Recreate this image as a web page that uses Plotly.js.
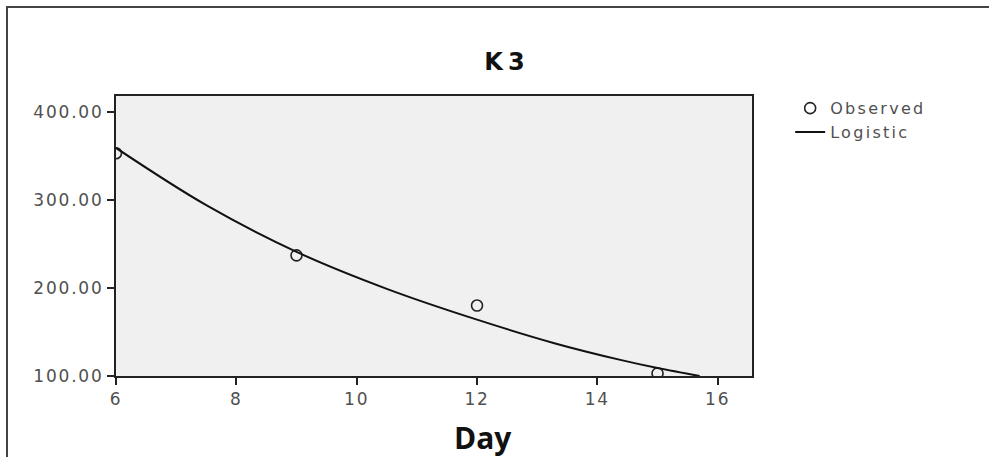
<!DOCTYPE html>
<html>
<head>
<meta charset="utf-8">
<script src="https://cdn.plot.ly/plotly-3.0.1.min.js"></script>
<style>
  html, body { margin: 0; padding: 0; background: #fff; }
  #wrap { position: relative; width: 989px; height: 457px; overflow: hidden; }
  #frame { position: absolute; left: 6px; top: 6px; width: 2000px; height: 1000px;
           border-left: 2px solid #444; border-top: 2px solid #444; pointer-events: none; z-index: 5; }
  #chart { position: absolute; left: 0; top: 0; width: 989px; height: 457px; }
  .xtick text, .ytick text { letter-spacing: 1.8px; }
  .legendtext { letter-spacing: 2.3px; }
  .gtitle { letter-spacing: 5px; }
</style>
</head>
<body>
<div id="wrap">
  <div id="chart"></div>
  <div id="frame"></div>
</div>
<script>
// Observed data
const observedDay = [6, 9, 12, 15];
const observedValue = [353, 237, 180, 103];

// Logistic fitted curve
const logisticDay = [6, 7.5, 9, 10.5, 12, 13.3, 14.4, 15, 15.7];
const logisticValue = [359, 294, 241, 199, 164, 137, 118, 109, 100];

const xTicks = [6, 8, 10, 12, 14, 16];
const yTicks = [100, 200, 300, 400];

const chartTitle = 'K3';
const xTitle = 'Day';

const tickFont = { family: 'DejaVu Sans, sans-serif', size: 17, color: '#505050' };

const traces = [
  {
    x: observedDay, y: observedValue,
    type: 'scatter', mode: 'markers', name: 'Observed',
    marker: { symbol: 'circle-open', size: 11, color: '#222', line: { width: 1.6, color: '#222' } }
  },
  {
    x: logisticDay, y: logisticValue,
    type: 'scatter', mode: 'lines', name: 'Logistic',
    line: { color: '#111', width: 2, shape: 'spline', smoothing: 1 }
  }
];

const layout = {
  width: 989, height: 457,
  margin: { l: 116, r: 237, t: 96, b: 81 },
  paper_bgcolor: '#ffffff',
  plot_bgcolor: '#f0f0f0',
  font: tickFont,
  title: {
    text: '<b>' + chartTitle + '</b>',
    font: { family: 'DejaVu Sans, sans-serif', size: 24, color: '#111' },
    x: 507 / 989, xref: 'container', xanchor: 'center',
    y: 1 - 62 / 457, yref: 'container', yanchor: 'middle'
  },
  xaxis: {
    range: [6, 16.57],
    tickvals: xTicks, ticktext: xTicks.map(String),
    ticks: 'outside', ticklen: 7, tickwidth: 2, tickcolor: '#222',
    showline: true, linecolor: '#222', linewidth: 2, mirror: true,
    showgrid: false, zeroline: false,
    tickfont: tickFont
  },
  yaxis: {
    range: [100, 418],
    tickvals: yTicks, tickformat: '.2f',
    ticks: 'outside', ticklen: 7, tickwidth: 2, tickcolor: '#222',
    showline: true, linecolor: '#222', linewidth: 2, mirror: true,
    showgrid: false, zeroline: false,
    tickfont: tickFont
  },
  showlegend: true,
  legend: {
    x: 1.06, xanchor: 'left', y: 1.017, yanchor: 'top',
    bgcolor: 'rgba(0,0,0,0)',
    font: { family: 'DejaVu Sans, sans-serif', size: 16, color: '#505050' },
    tracegroupgap: 0
  },
  annotations: [
    {
      text: '<b>' + xTitle + '</b>',
      xref: 'paper', yref: 'paper',
      x: (483 - 116) / 636, y: -(437 - 376) / 280,
      xanchor: 'center', yanchor: 'middle',
      showarrow: false,
      font: { family: 'Open Sans, DejaVu Sans Condensed, sans-serif', size: 30, color: '#111' }
    }
  ]
};

Plotly.newPlot('chart', traces, layout, { displayModeBar: false, staticPlot: true });
</script>
</body>
</html>
